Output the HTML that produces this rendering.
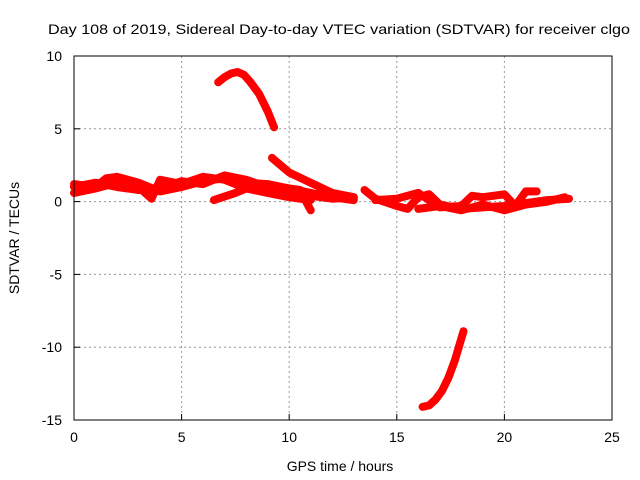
<!DOCTYPE html>
<html><head><meta charset="utf-8"><style>
body{margin:0;background:#fff}
svg{display:block;font-family:"Liberation Sans",sans-serif}
</style></head><body>
<svg id="chart" width="640" height="480" viewBox="0 0 640 480">
<text x="48" y="34" font-size="14" textLength="582" lengthAdjust="spacingAndGlyphs">Day 108 of 2019, Sidereal Day-to-day VTEC variation (SDTVAR) for receiver clgo</text>
<g id="grid"></g>
<g id="series"></g>
<rect x="74" y="56" width="538" height="364" fill="none" stroke="#000" stroke-width="1"/>
<g id="ticks"></g>
<text x="340" y="471" font-size="14" text-anchor="middle">GPS time / hours</text>
<text x="19" y="238" font-size="14" text-anchor="middle" transform="rotate(-90 19 238)">SDTVAR / TECUs</text>
</svg>
<script>
const xTicks=[0,5,10,15,20,25];
const yTicks=[10,5,0,-5,-10,-15];
const trackUpperArc=[[6.7,8.2],[7.0,8.55],[7.3,8.8],[7.6,8.9],[7.9,8.7],[8.2,8.2],[8.6,7.4],[9.0,6.2],[9.3,5.1]];
const trackLowerArc=[[16.2,-14.1],[16.5,-14.0],[16.8,-13.6],[17.1,-13.0],[17.4,-12.1],[17.7,-10.9],[18.1,-8.9]];
const track1=[[0,1.2],[1,1.0],[1.5,1.6],[2,1.7],[3,1.3],[4,0.7],[5,1.0],[6,1.4],[7,1.6],[8,1.3],[9,1.2],[10,0.9],[11,0.6],[12,0.3],[13,0.1]];
const track2=[[0,0.6],[1,0.9],[2,1.3],[3,1.0],[3.6,0.2],[4,1.5],[5,1.2],[6,1.7],[7,1.5],[8,0.9],[9,0.6],[10,0.3],[11,0.1]];
const track2b=[[0,1.0],[1,1.3],[2,1.0],[3,0.8],[4,0.9],[5,1.4],[6,1.2],[7,1.8],[8,1.5],[9,1.0],[10,0.5],[11,0.4],[12,0.2],[13,0.3]];
const track3=[[6.5,0.1],[7.5,0.6],[8.5,1.2],[9.5,1.0],[10.5,0.8],[11,-0.6]];
const track4=[[9.2,3.0],[10,2.0],[11,1.3],[12,0.6],[13,0.3]];
const track5=[[13.5,0.8],[14,0.2],[15,-0.3],[15.5,-0.5],[16,0.3],[16.5,0.5],[17,-0.2],[18,-0.5],[19,-0.4],[20,-0.3],[21,-0.1],[22,0.1],[23,0.2]];
const track6=[[14,0.1],[15,0.2],[16,0.6],[17,-0.4],[18,-0.3],[18.5,0.4],[19,0.3],[20,0.5],[20.5,-0.3],[21,0.7],[21.5,0.7]];
const track7=[[16,-0.5],[17,-0.3],[18,-0.6],[19,-0.2],[20,-0.6],[21,-0.2],[22,0.0],[22.8,0.3]];
const tracks=[trackUpperArc,trackLowerArc,track1,track2,track2b,track3,track4,track5,track6,track7];
const X=h=>74+h*538/25;
const Y=v=>56+(10-v)*364/25;
const NS="http://www.w3.org/2000/svg";
const grid=document.getElementById('grid'),ticks=document.getElementById('ticks'),series=document.getElementById('series');
function mk(tag,attrs,parent){const e=document.createElementNS(NS,tag);for(const k in attrs)e.setAttribute(k,attrs[k]);parent.appendChild(e);return e;}
xTicks.forEach(t=>{
  const x=X(t);
  if(t>0&&t<25){const g=mk('line',{x1:x,x2:x,y1:56,y2:420,stroke:'#999','stroke-dasharray':'2,3'},grid);
  
  }
  const a=mk('line',{x1:x,x2:x,y1:420,y2:414,stroke:'#000'},ticks);
  
  
  const l=mk('text',{x:x,y:442,'font-size':14,'text-anchor':'middle'},ticks);l.textContent=t;
  
  
});
yTicks.forEach(t=>{
  const y=Y(t);
  if(t<10&&t>-15){const g=mk('line',{x1:74,x2:612,y1:y,y2:y,stroke:'#999','stroke-dasharray':'2,3'},grid);
  
  }
  const a=mk('line',{x1:74,x2:80,y1:y,y2:y,stroke:'#000'},ticks);
  
  
  const l=mk('text',{x:62,y:y+5,'font-size':14,'text-anchor':'end'},ticks);l.textContent=t;
  
  
});
tracks.forEach((tr,i)=>{
  const d=tr.map((p,j)=>(j?'L':'M')+X(p[0]).toFixed(1)+','+Y(p[1]).toFixed(1)).join(' ');
  const p=mk('path',{d:d,fill:'none',stroke:'#ff0000','stroke-width':8,'stroke-linejoin':'round','stroke-linecap':'round'},series);
  
  
});
</script>
</body></html>
